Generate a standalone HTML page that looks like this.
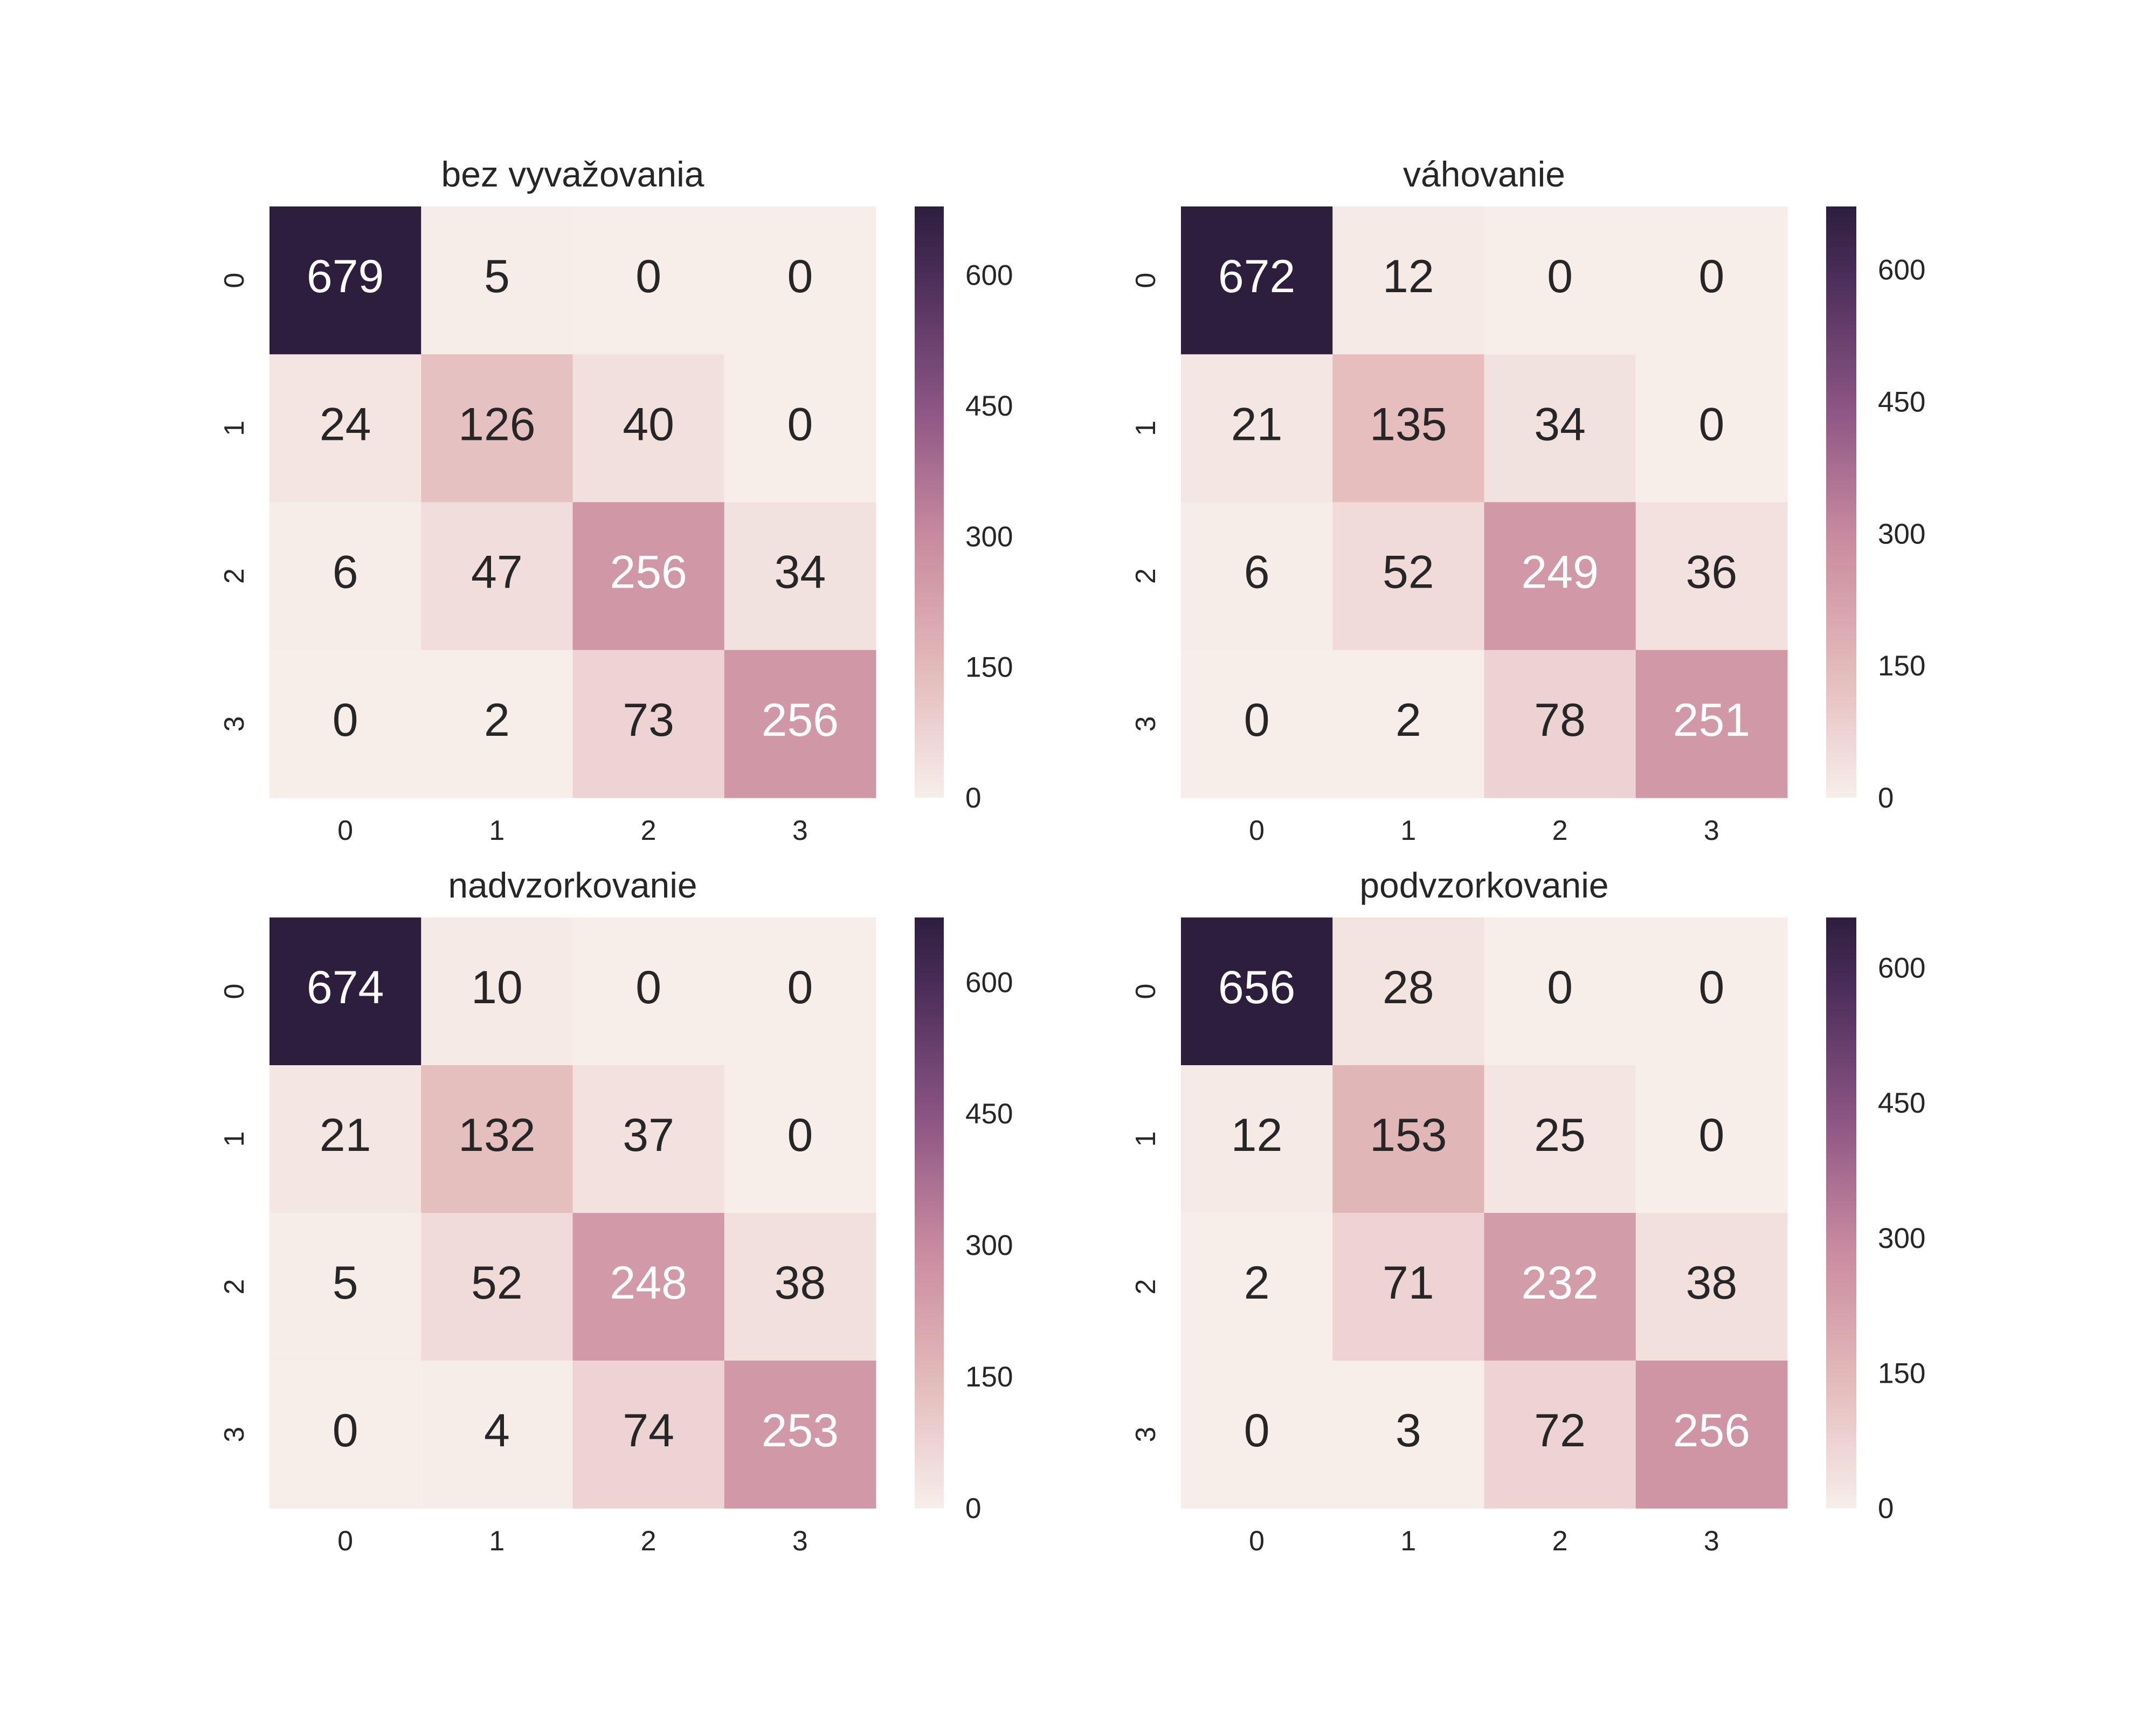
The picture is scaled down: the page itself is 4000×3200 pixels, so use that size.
<!DOCTYPE html>
<html><head><meta charset="utf-8"><style>
body{margin:0;background:#fff}
svg{display:block;font-family:"Liberation Sans",Arial,sans-serif}
</style></head><body>
<svg id="fig" width="4000" height="3200" viewBox="0 0 4000 3200" xmlns="http://www.w3.org/2000/svg"></svg>
<script>
const titles = ["bez vyvažovania", "váhovanie", "nadvzorkovanie", "podvzorkovanie"];
const classLabels = ["0", "1", "2", "3"];
const cbTicks = [0, 150, 300, 450, 600];
const matBez = [[679,5,0,0],[24,126,40,0],[6,47,256,34],[0,2,73,256]];
const matVah = [[672,12,0,0],[21,135,34,0],[6,52,249,36],[0,2,78,251]];
const matNad = [[674,10,0,0],[21,132,37,0],[5,52,248,38],[0,4,74,253]];
const matPod = [[656,28,0,0],[12,153,25,0],[2,71,232,38],[0,3,72,256]];
const mats = [matBez, matVah, matNad, matPod];

const NS = "http://www.w3.org/2000/svg";
const svg = document.getElementById("fig");
const stops = [[0,[247,238,234]],[0.22,[227,185,185]],[0.44,[201,138,159]],[0.66,[140,85,132]],[0.88,[75,46,89]],[1,[45,30,62]]];
function cmap(t){
  t=Math.max(0,Math.min(1,t));
  for(let i=1;i<stops.length;i++){
    if(t<=stops[i][0]){
      const a=stops[i-1],b=stops[i],f=(t-a[0])/(b[0]-a[0]);
      const c=a[1].map((v,k)=>Math.round(v+(b[1][k]-v)*f));
      return `rgb(${c[0]},${c[1]},${c[2]})`;
    }
  }
  return "rgb(45,30,62)";
}
function el(tag, attrs, parent){
  const e=document.createElementNS(NS,tag);
  for(const k in attrs) e.setAttribute(k,attrs[k]);
  (parent||svg).appendChild(e);
  return e;
}
const panels=[
  {x0:500,x1:1625,y0:383,y1:1480,cb0:1697,cb1:1751},
  {x0:2191,x1:3316,y0:383,y1:1480,cb0:3388,cb1:3444},
  {x0:500,x1:1625,y0:1702,y1:2798,cb0:1697,cb1:1751},
  {x0:2191,x1:3316,y0:1702,y1:2798,cb0:3388,cb1:3444}
];
panels.forEach((p,pi)=>{
  const m=mats[pi];
  const vmax=Math.max(...m.flat());
  const g=el("g",{});
  
  
  const n=classLabels.length;
  const cw=(p.x1-p.x0)/n, ch=(p.y1-p.y0)/n;
  const xs=j=>p.x0+j*cw, ys=i=>p.y0+i*ch;
  const t=el("text",{x:(p.x0+p.x1)/2,y:p.y0-37,"text-anchor":"middle","font-size":"66",fill:"#262626"},g);
  t.textContent=titles[pi];
  
  
  for(let i=0;i<n;i++)for(let j=0;j<n;j++){
    const v=m[i][j];
    const r=el("rect",{x:xs(j),y:ys(i),width:cw+0.5,height:ch+0.5,fill:cmap(v/vmax)},g);
    
    
    const tx=el("text",{x:xs(j)+cw/2,y:ys(i)+ch/2+22,"text-anchor":"middle","font-size":"86",fill:(v/vmax>0.3?"#ffffff":"#262626")},g);
    tx.textContent=v;
    
    
  }
  classLabels.forEach((lab,k)=>{
    const xt=el("text",{x:xs(k)+cw/2,y:p.y1+78,"text-anchor":"middle","font-size":"52",fill:"#262626"},g);
    xt.textContent=lab;
    
    
    const cy=ys(k)+ch/2, cx=p.x0-66;
    const yt=el("text",{x:cx,y:cy,"text-anchor":"middle","font-size":"52",fill:"#262626",transform:`rotate(-90 ${cx} ${cy}) translate(0 18)`},g);
    yt.textContent=lab;
    
    
  });
  const gid="cbg"+pi;
  const defs=el("defs",{},g);
  const lg=el("linearGradient",{id:gid,x1:"0",y1:"1",x2:"0",y2:"0"},defs);
  for(let s=0;s<=20;s++){el("stop",{offset:s/20,"stop-color":cmap(s/20)},lg);}
  const cb=el("rect",{x:p.cb0,y:p.y0,width:p.cb1-p.cb0,height:p.y1-p.y0,fill:`url(#${gid})`},g);
  
  
  cbTicks.forEach(tv=>{
    const yy=p.y1-(tv/vmax)*(p.y1-p.y0);
    const ct=el("text",{x:p.cb1+40,y:yy+18,"text-anchor":"start","font-size":"53",fill:"#262626"},g);
    ct.textContent=tv;
    
    
  });
});
</script>
</body></html>
